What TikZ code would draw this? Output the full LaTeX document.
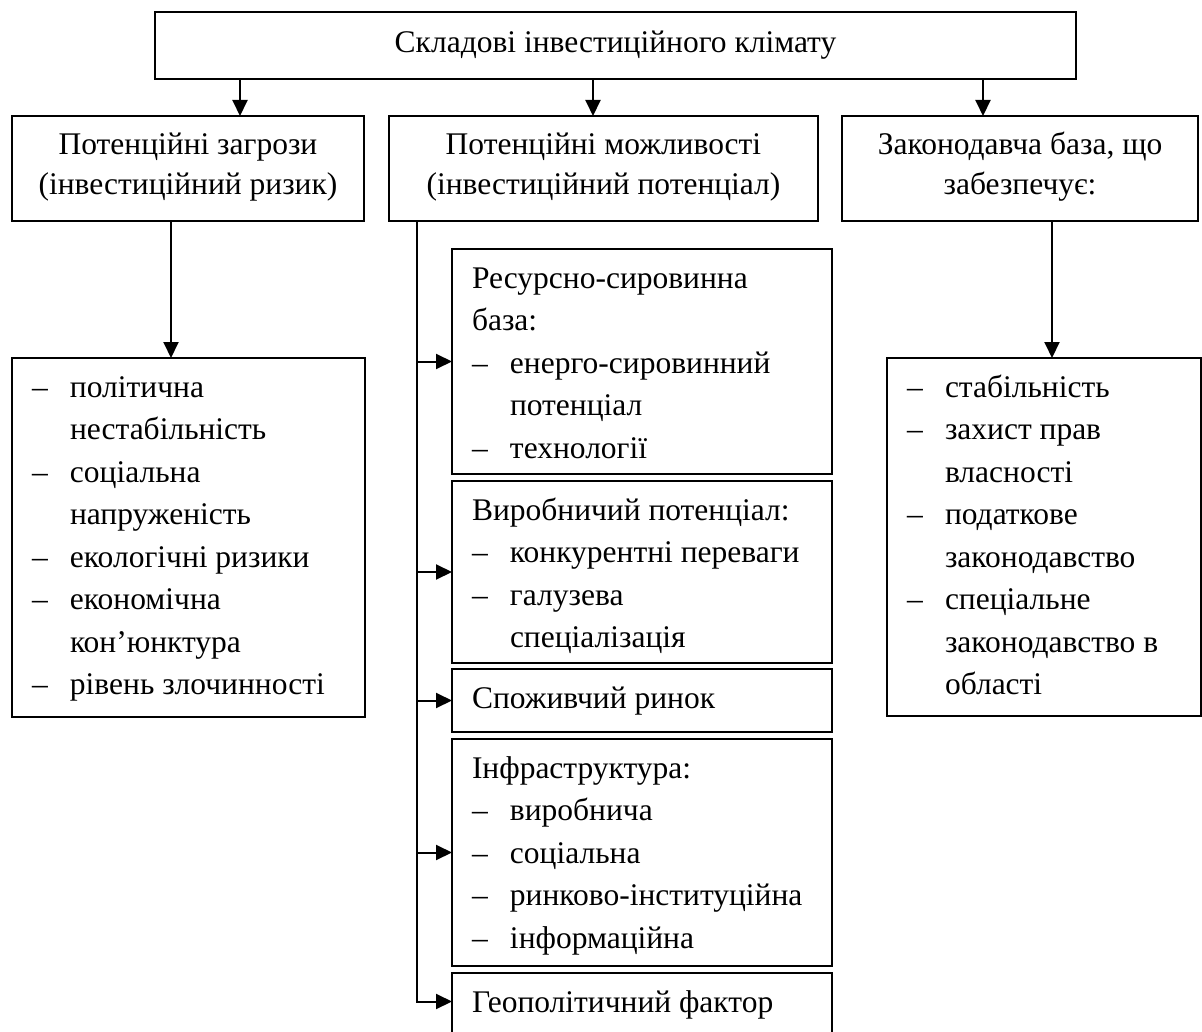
\documentclass[tikz,border=0pt]{standalone}
\usepackage{fontspec}
\setmainfont{Liberation Serif}
\usetikzlibrary{arrows.meta,calc}
\newcommand{\itm}[1]{\mbox{\makebox[38pt][l]{–}#1}}
\newcommand{\cnt}[1]{\mbox{\hspace*{38pt}#1}}
% cell: height, text width, content (first baseline 39pt below the top)
\newcommand{\cellL}[3]{\parbox[c][#1][t]{#2}{\rule{0pt}{39pt}#3}}
\newcommand{\cellC}[3]{\parbox[c][#1][t]{#2}{\centering\rule{0pt}{39pt}#3}}
\begin{document}
\begin{tikzpicture}[x=1pt,y=-1pt,
  box/.style={draw, line width=2pt, anchor=north west, inner sep=0pt, outer sep=0pt,
    font=\fontsize{31.5}{42.5}\selectfont},
  hbox/.style={box, font=\fontsize{31.5}{40}\selectfont},
  arr/.style={line width=2pt, -{Triangle[length=16pt,width=15pt]}}]
\useasboundingbox (0,0) rectangle (1202,1032);

\node[box, minimum width=921pt, minimum height=67pt] (top) at (155,12)
  {Складові інвестиційного клімату};

\node[hbox, minimum width=352pt, minimum height=105pt] (L) at (12,116)
  {\cellC{105pt}{340pt}{Потенційні загрози\\(інвестиційний ризик)}};
\node[hbox, minimum width=429pt, minimum height=105pt] (M) at (389,116)
  {\cellC{105pt}{417pt}{Потенційні можливості\\(інвестиційний потенціал)}};
\node[hbox, minimum width=356pt, minimum height=105pt] (R) at (842,116)
  {\cellC{105pt}{344pt}{Законодавча база, що\\забезпечує:}};

\node[box, minimum width=353pt, minimum height=359pt] (LL) at (12,358)
  {\cellL{359pt}{313pt}{\itm{політична}\\\cnt{нестабільність}\\\itm{соціальна}\\\cnt{напруженість}\\
   \itm{екологічні ризики}\\\itm{економічна}\\\cnt{кон’юнктура}\\\itm{рівень злочинності}}};

\node[box, minimum width=314pt, minimum height=358pt] (RL) at (887,358)
  {\cellL{358pt}{274pt}{\itm{стабільність}\\\itm{захист прав}\\\cnt{власності}\\\itm{податкове}\\
   \cnt{законодавство}\\\itm{спеціальне}\\\cnt{законодавство в}\\\cnt{області}}};

\node[box, minimum width=380pt, minimum height=225pt] (b1) at (452,249)
  {\cellL{225pt}{340pt}{\mbox{Ресурсно-сировинна}\\база:\\\itm{енерго-сировинний}\\\cnt{потенціал}\\\itm{технології}}};
\node[box, minimum width=380pt, minimum height=182pt] (b2) at (452,481)
  {\cellL{182pt}{340pt}{\mbox{Виробничий потенціал:}\\\itm{конкурентні переваги}\\\itm{галузева}\\\cnt{спеціалізація}}};
\node[box, minimum width=380pt, minimum height=63pt] (b3) at (452,669)
  {\cellL{63pt}{340pt}{\mbox{Споживчий ринок}}};
\node[box, minimum width=380pt, minimum height=227pt] (b4) at (452,739)
  {\cellL{227pt}{340pt}{Інфраструктура:\\\itm{виробнича}\\\itm{соціальна}\\\itm{ринково-інституційна}\\\itm{інформаційна}}};
\node[box, minimum width=380pt, minimum height=61pt] (b5) at (452,973)
  {\cellL{61pt}{340pt}{\mbox{Геополітичний фактор}}};

\coordinate (xa) at (240,0);
\coordinate (xb) at (593,0);
\coordinate (xc) at (983,0);
\coordinate (xl) at (171,0);
\coordinate (xr) at (1052,0);
\coordinate (xs) at (417,0);

\draw[arr] (top.south -| xa) -- (L.north -| xa);
\draw[arr] (top.south -| xb) -- (M.north -| xb);
\draw[arr] (top.south -| xc) -- (R.north -| xc);
\draw[arr] (L.south -| xl) -- (LL.north -| xl);
\draw[arr] (R.south -| xr) -- (RL.north -| xr);

\draw[arr] (M.south -| xs) |- ([yshift=2pt]b5.west);
\draw[arr] (xs |- b1.west) -- (b1.west);
\draw[arr] (xs |- b2.west) -- (b2.west);
\draw[arr] (xs |- b3.west) -- (b3.west);
\draw[arr] (xs |- b4.west) -- (b4.west);
\end{tikzpicture}
\end{document}
